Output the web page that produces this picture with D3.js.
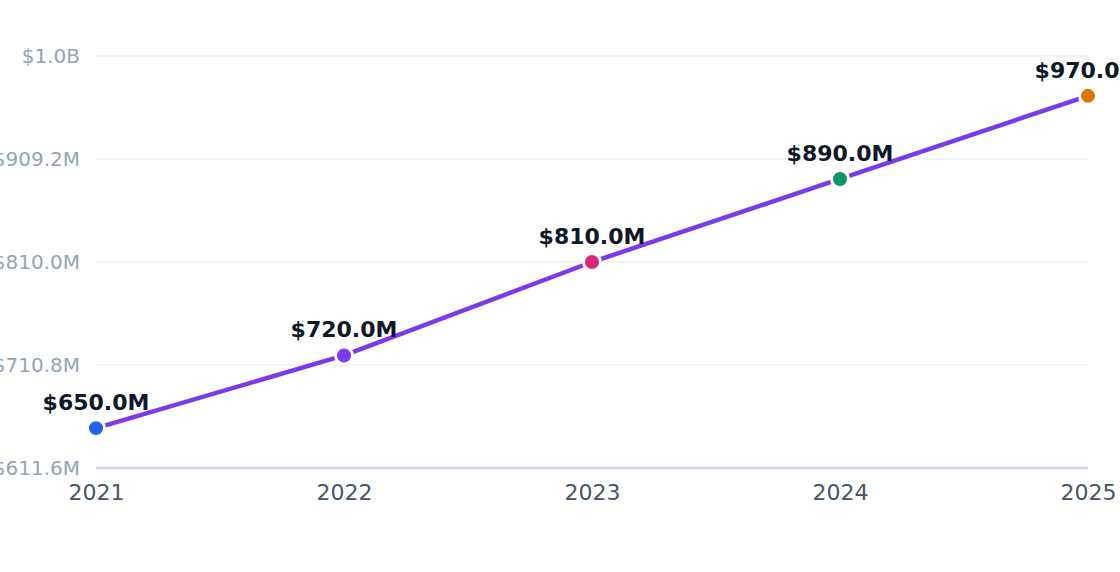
<!DOCTYPE html>
<html lang="en">
<head>
<meta charset="UTF-8">
<title>Chart</title>
<style>
  html, body { margin: 0; padding: 0; background: #fff; }
  svg { display: block; font-family: "DejaVu Sans", sans-serif; }
</style>
</head>
<body>
<script src="https://d3js.org/d3.v7.min.js"></script>
<script>
  var years = ['2021', '2022', '2023', '2024', '2025'];
  var values = [650, 720, 810, 890, 970];   // millions
  var pointColors = ['#2563eb', '#7c3aed', '#db2777', '#059669', '#d97706'];
  var yTicks = [611.6, 710.8, 810.0, 909.2, 1008.4];

  var width = 1120, height = 572;
  // plot box (note: "top" is reserved on window, so use a prefix)
  var plotLeft = 96, plotRight = 1088, plotTop = 56, plotBottom = 468;

  var svg = d3.select('body').append('svg')
    .attr('width', width).attr('height', height);

  var x = d3.scalePoint().domain(years).range([plotLeft, plotRight]);
  var y = d3.scaleLinear().domain([yTicks[0], yTicks[yTicks.length - 1]]).range([plotBottom, plotTop]);

  function fmt(v) {
    return v >= 1000 ? '$' + (v / 1000).toFixed(1) + 'B' : '$' + v.toFixed(1) + 'M';
  }

  // grid
  svg.append('g').selectAll('line')
    .data(yTicks.slice(1))
    .enter().append('line')
    .attr('x1', plotLeft).attr('x2', plotRight)
    .attr('y1', function (d) { return y(d); })
    .attr('y2', function (d) { return y(d); })
    .attr('stroke', '#f1f5f9').attr('stroke-width', 2);

  // y axis labels
  var yAxis = d3.axisLeft(y).tickValues(yTicks).tickFormat(fmt).tickSize(0).tickPadding(16);
  var gy = svg.append('g').attr('transform', 'translate(' + plotLeft + ',0)').call(yAxis);
  gy.select('.domain').remove();
  gy.selectAll('text').attr('fill', '#94a3b8').attr('font-size', 20)
    .attr('font-family', '"DejaVu Sans", sans-serif');

  // x axis
  var xAxis = d3.axisBottom(x).tickSize(0).tickPadding(16);
  var gx = svg.append('g').attr('transform', 'translate(0,' + plotBottom + ')').call(xAxis);
  gx.select('.domain').attr('stroke', '#cbd5e1').attr('stroke-width', 2.5)
    .attr('d', 'M' + plotLeft + ',0H' + plotRight);
  gx.selectAll('text').attr('fill', '#475569').attr('font-size', 22)
    .attr('font-family', '"DejaVu Sans", sans-serif');

  var data = years.map(function (yr, i) { return { year: yr, value: values[i], color: pointColors[i] }; });

  // line
  var line = d3.line().x(function (d) { return x(d.year); }).y(function (d) { return y(d.value); });
  svg.append('path').datum(data)
    .attr('d', line)
    .attr('fill', 'none')
    .attr('stroke', '#7c3aed')
    .attr('stroke-width', 4.5)
    .attr('stroke-linejoin', 'round');

  // points
  svg.append('g').selectAll('circle')
    .data(data)
    .enter().append('circle')
    .attr('cx', function (d) { return x(d.year); })
    .attr('cy', function (d) { return y(d.value); })
    .attr('r', 8.5)
    .attr('fill', function (d) { return d.color; })
    .attr('stroke', '#fff')
    .attr('stroke-width', 3);

  // value labels
  svg.append('g').selectAll('text')
    .data(data)
    .enter().append('text')
    .attr('x', function (d) { return x(d.year); })
    .attr('y', function (d) { return y(d.value) - 18; })
    .attr('text-anchor', 'middle')
    .attr('font-size', 22)
    .attr('font-weight', 'bold')
    .attr('fill', '#0f172a')
    .text(function (d) { return fmt(d.value); });
</script>
</body>
</html>
